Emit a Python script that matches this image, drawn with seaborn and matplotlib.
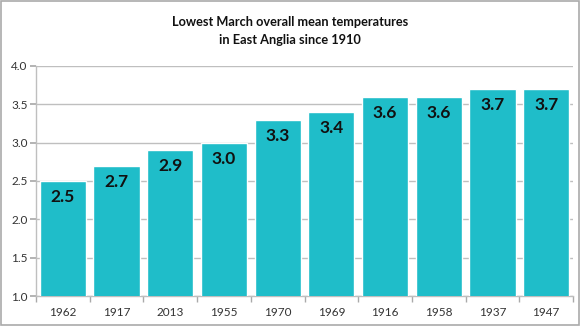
import matplotlib
matplotlib.use("Agg")
import matplotlib.pyplot as plt
import seaborn as sns
import pandas as pd
from matplotlib.patches import Rectangle

years = ["1962", "1917", "2013", "1955", "1970", "1969", "1916", "1958", "1937", "1947"]
temps = [2.5, 2.7, 2.9, 3.0, 3.3, 3.4, 3.6, 3.6, 3.7, 3.7]
yticks = [1.0, 1.5, 2.0, 2.5, 3.0, 3.5, 4.0]

sns.set_theme(style="white")
plt.rcParams['font.family'] = ['Lato', 'DejaVu Sans']

df = pd.DataFrame({"year": years, "temp": temps})

fig = plt.figure(figsize=(5.8, 3.26), dpi=100)
ax = fig.add_axes([0.062, 0.092, 0.926, 0.706])

sns.barplot(data=df, x="year", y="temp", color="#1FBDC9", saturation=1,
            width=0.86, ax=ax, zorder=3)
ax.set_ylim(1.0, 4.0)
ax.set_xlim(-0.5, len(years) - 0.5)
ax.set_yticks(yticks)
ax.set_yticklabels([f"{v:.1f}" for v in yticks], fontsize=8.5, color="#333333")
ax.set_xticks(range(len(years)))
ax.set_xticklabels(years, fontsize=8.5, color="#333333")
ax.tick_params(axis="x", length=0, pad=8)
ax.tick_params(axis="y", length=4, color="#AAAAAA", pad=2, left=True)
ax.set_xticks([i - 0.5 for i in range(len(years) + 1)], minor=True)
ax.tick_params(axis="x", which="minor", length=4, color="#AAAAAA", bottom=True)
ax.yaxis.grid(True, color="#BFBFBF", linewidth=1, zorder=0)
ax.set_axisbelow(True)
ax.set_xlabel("")
ax.set_ylabel("")
for s in ["top", "right"]:
    ax.spines[s].set_visible(False)
for s in ["left", "bottom"]:
    ax.spines[s].set_color("#BFBFBF")
    ax.spines[s].set_linewidth(1)

for i, v in enumerate(temps):
    ax.text(i, v - 0.21, f"{v:.1f}", ha="center", va="center",
            fontsize=12.5, fontweight="bold", color="#111111", zorder=5)

fig.text(0.5, 0.905, "Lowest March overall mean temperatures\nin East Anglia since 1910",
         ha="center", va="center", fontsize=9.2, fontweight="bold",
         color="#111111", linespacing=1.55)

fig.patches.append(Rectangle((0.001, 0.002), 0.997, 0.995, transform=fig.transFigure,
                             fill=False, edgecolor="#AAAAAA", linewidth=1.2))

fig.savefig("out.png", dpi=100)
